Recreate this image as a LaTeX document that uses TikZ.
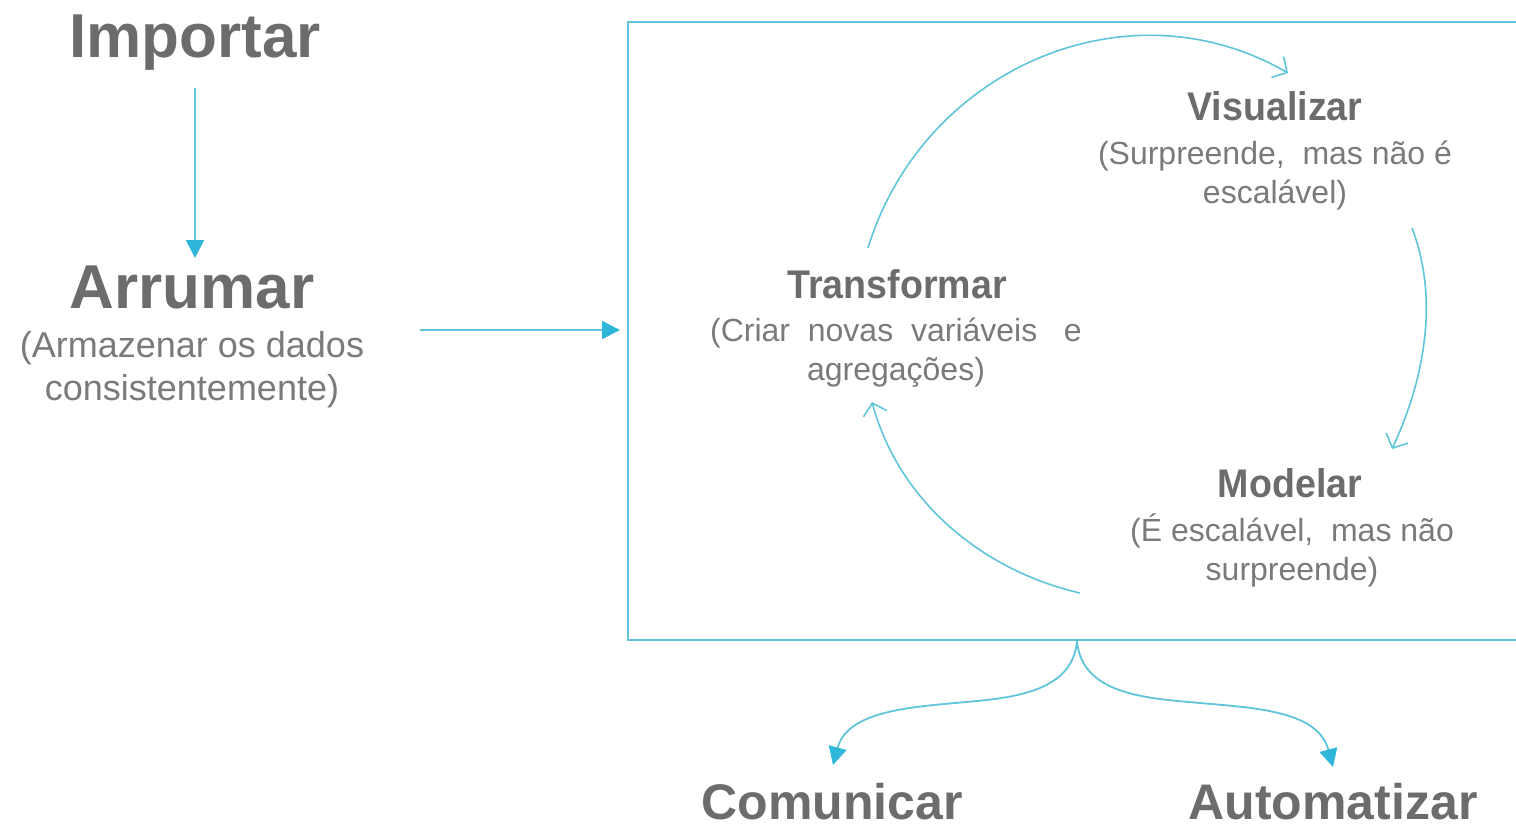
\documentclass[tikz,border=0pt]{standalone}
\usepackage{fontspec}
\setmainfont{Liberation Sans}
\newfontfamily\innerfont{Liberation Sans}[FakeStretch=0.94]
\usetikzlibrary{arrows.meta,calc}
\definecolor{txt}{RGB}{108,108,110}
\definecolor{subtxt}{RGB}{122,122,124}
\definecolor{ln}{RGB}{96,196,218}
\definecolor{hd}{RGB}{48,182,216}
\begin{document}
\begin{tikzpicture}[x=1pt,y=-1pt,
  bigtitle/.style={font=\fontsize{62}{70}\selectfont\bfseries, text=txt, inner sep=0, anchor=base},
  midtitle/.style={font=\innerfont\fontsize{40}{46}\selectfont\bfseries, text=txt, inner sep=0, anchor=base},
  endtitle/.style={font=\fontsize{50}{58}\selectfont\bfseries, text=txt, inner sep=0, anchor=base},
  leftsub/.style={font=\fontsize{36}{43}\selectfont, text=subtxt, inner sep=0, anchor=base, align=center},
  innersub/.style={font=\fontsize{32}{39}\selectfont, text=subtxt, inner sep=0, anchor=base, align=center},
  flow/.style={draw=ln, line width=1.8pt, -{Triangle[length=18pt,width=18pt,color=hd]}},
  cyc/.style={draw=ln, line width=1.6pt, -{Straight Barb[length=11pt,width=24pt,line width=1.6pt]}},
  frame/.style={draw=ln, line width=2.4pt}
]
\useasboundingbox (0,0) rectangle (1516,828);

% left column
\node[bigtitle] (imp) at (195,57) {Importar};
\node[bigtitle] (arr) at (192,308) {Arrumar};
\node[leftsub] (arrsub) at (192,400) {(Armazenar os dados\\consistentemente)};

% frame
\draw[frame] (1520,22) -- (628,22) -- (628,640) -- (1520,640);
\coordinate (boxin) at (620,330);
\coordinate (hstart) at (420,330);
\coordinate (fork) at (1077,641);

% cycle texts
\node[midtitle] (trf) at (897,298) {Transformar};
\node[innersub] (trfsub) at (896,380) {(Criar\ \ novas\ \ variáveis\ \ \ e\\agregações)};
\node[midtitle] (vis) at (1275,120) {Visualizar};
\node[innersub] (vissub) at (1275,203) {(Surpreende,\ \ mas não é\\escalável)};
\node[midtitle] (mod) at (1290,497) {Modelar};
\node[innersub] (modsub) at (1292,580) {(É escalável,\ \ mas não\\surpreende)};

% bottom texts
\node[endtitle] (com) at (832,819) {Comunicar};
\node[endtitle] (aut) at (1333,819) {Automatizar};

% connectors
\draw[flow] ($(imp.base)+(0,31)$) -- ($(imp.base |- arr.base)+(0,-50)$);
\draw[flow] (hstart) -- (boxin);

\draw[cyc] ($(trf.base)+(-29,-50)$) to[out=73,in=150,looseness=1.05] ($(vis.base)+(13,-47)$);
\draw[cyc] ($(vis.base)+(137,108)$) to[out=-69,in=65,looseness=0.88] ($(mod.base)+(102,-48)$);
\draw[cyc] ($(mod.base)+(-210,96)$) to[out=167,in=-75,looseness=0.92] ($(trf.base)+(-25,104)$);

\draw[flow] (fork) to[out=-95,in=5] (955,703) to[out=185,in=75] ($(com.base)+(1,-54)$);
\draw[flow] (fork) to[out=-85,in=175] (1200,703) to[out=-5,in=105] ($(aut.base)+(0,-52)$);
\end{tikzpicture}
\end{document}
